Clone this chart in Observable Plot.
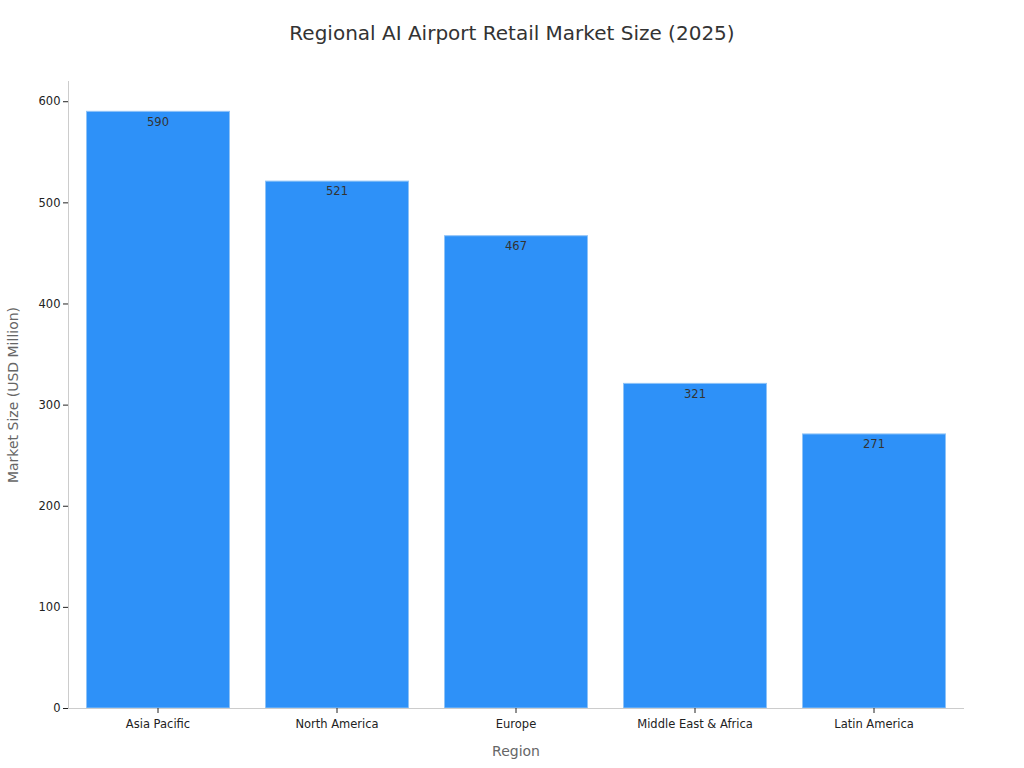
<!DOCTYPE html>
<html><head><meta charset="utf-8">
<script src="https://cdn.jsdelivr.net/npm/d3@7"></script>
<script src="https://cdn.jsdelivr.net/npm/@observablehq/plot@0.6"></script>
<style>
body{margin:0;background:#fff;font-family:"DejaVu Sans",sans-serif;}
#title{height:66px;line-height:66px;text-align:center;font-size:20px;color:#333;}
</style></head>
<body>
<div id="title">Regional AI Airport Retail Market Size (2025)</div>
<div id="chart"></div>
<script>
const regions = ["Asia Pacific","North America","Europe","Middle East & Africa","Latin America"];
const marketSize = [590,521,467,321,271];
const yTicks = [0,100,200,300,400,500,600];
const data = regions.map((r,i)=>({region:r, value:marketSize[i]}));
const plot = Plot.plot({
  width:1024, height:702,
  marginTop:15, marginBottom:60, marginLeft:68, marginRight:61,
  style:{fontFamily:"DejaVu Sans, sans-serif", fontSize:"11.5px", color:"#222", background:"#fff"},
  x:{domain:regions, paddingInner:0.2, paddingOuter:0.1, label:null},
  y:{domain:[0,620], label:null, ticks:yTicks},
  marks:[
    Plot.barY(data,{x:"region", y:"value", fill:"#2e91f8", stroke:"#8fc3f7", strokeWidth:1, insetLeft:0.5, insetRight:-0.5}),
    Plot.text(data,{x:"region", y:"value", text:d=>String(d.value), dy:10, fill:"#333", fontSize:11.5}),
    Plot.frame({anchor:"left", stroke:"#ccc"}),
    Plot.frame({anchor:"bottom", stroke:"#ccc"}),
    Plot.axisX({tickSize:5, tickPadding:6, fontSize:11.5, label:null}),
    Plot.axisY({ticks:yTicks, tickSize:5, tickPadding:3, fontSize:11.5, label:null}),
    Plot.text(["Region"],{frameAnchor:"bottom", dy:47, fontSize:14, fill:"#666"}),
    Plot.text(["Market Size (USD Million)"],{frameAnchor:"left", textAnchor:"middle", dx:-55, rotate:-90, fontSize:14, fill:"#666"})
  ]
});
document.getElementById("chart").appendChild(plot);
</script>
</body></html>
